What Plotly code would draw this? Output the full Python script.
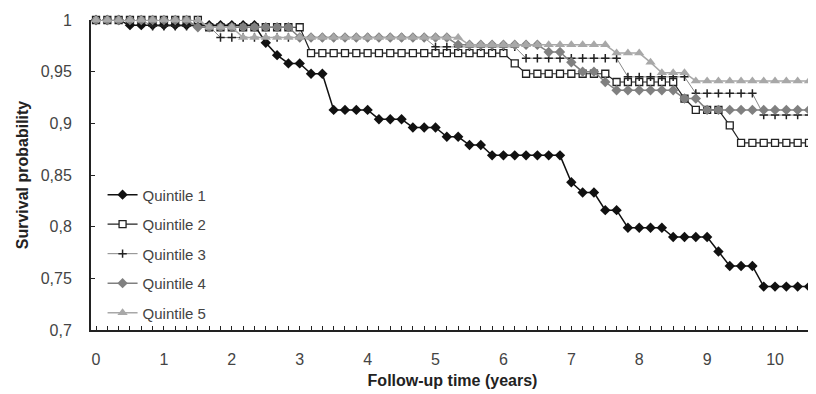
import plotly.graph_objects as go

# Follow-up time points (every 2 months), in years
months = list(range(0, 127, 2))
years = [m / 12 for m in months]

x_tick_vals = [0, 1, 2, 3, 4, 5, 6, 7, 8, 9, 10]
x_tick_text = ["0", "1", "2", "3", "4", "5", "6", "7", "8", "9", "10"]
y_tick_vals = [0.7, 0.75, 0.8, 0.85, 0.9, 0.95, 1.0]
y_tick_text = ["0,7", "0,75", "0,8", "0,85", "0,9", "0,95", "1"]

names = ["Quintile 1", "Quintile 2", "Quintile 3", "Quintile 4", "Quintile 5"]

q1 = [1.000, 1.000, 1.000,
      0.995, 0.995, 0.995, 0.995, 0.995, 0.995, 0.995, 0.995, 0.995, 0.995, 0.995, 0.995,
      0.978, 0.966, 0.958, 0.958, 0.948, 0.948,
      0.913, 0.913, 0.913, 0.913,
      0.904, 0.904, 0.904,
      0.896, 0.896, 0.896,
      0.887, 0.887,
      0.879, 0.879,
      0.869, 0.869, 0.869, 0.869, 0.869, 0.869, 0.869,
      0.843,
      0.833, 0.833,
      0.816, 0.816,
      0.799, 0.799, 0.799, 0.799,
      0.790, 0.790, 0.790, 0.790,
      0.776,
      0.762, 0.762, 0.762,
      0.742, 0.742, 0.742, 0.742, 0.742]

q2 = [1.000, 1.000, 1.000, 1.000, 1.000, 1.000, 1.000, 1.000, 1.000, 1.000,
      0.993, 0.993, 0.993, 0.993, 0.993, 0.993, 0.993, 0.993, 0.993,
      0.968, 0.968, 0.968, 0.968, 0.968, 0.968, 0.968, 0.968, 0.968,
      0.968, 0.968, 0.968, 0.968, 0.968, 0.968, 0.968, 0.968, 0.968,
      0.958,
      0.948, 0.948, 0.948, 0.948, 0.948, 0.948, 0.948, 0.948,
      0.940, 0.940, 0.940, 0.940, 0.940, 0.940,
      0.924,
      0.913, 0.913, 0.913,
      0.898,
      0.881, 0.881, 0.881, 0.881, 0.881, 0.881, 0.881]

q3 = [1.000, 1.000, 1.000, 1.000, 1.000,
      0.994, 0.994, 0.994, 0.994, 0.994, 0.994,
      0.983, 0.983, 0.983, 0.983, 0.983, 0.983, 0.983, 0.983, 0.983, 0.983,
      0.983, 0.983, 0.983, 0.983, 0.983, 0.983, 0.983, 0.983, 0.983,
      0.974, 0.974, 0.974, 0.974, 0.974, 0.974, 0.974, 0.974,
      0.963, 0.963, 0.963, 0.963, 0.963, 0.963, 0.963, 0.963, 0.963,
      0.945, 0.945, 0.945, 0.945, 0.945, 0.945,
      0.929, 0.929, 0.929, 0.929, 0.929, 0.929,
      0.908, 0.908, 0.908, 0.908, 0.908]

q4 = [1.000, 1.000, 1.000, 1.000, 1.000, 1.000, 1.000, 1.000, 1.000,
      0.993, 0.993, 0.993, 0.993, 0.993, 0.993, 0.993, 0.993, 0.993,
      0.983, 0.983, 0.983, 0.983, 0.983, 0.983, 0.983, 0.983, 0.983, 0.983, 0.983, 0.983, 0.983, 0.983,
      0.976, 0.976, 0.976, 0.976, 0.976, 0.976, 0.976, 0.976,
      0.969, 0.969,
      0.959,
      0.950, 0.950,
      0.940,
      0.932, 0.932, 0.932, 0.932, 0.932, 0.932,
      0.924, 0.924,
      0.913, 0.913, 0.913, 0.913, 0.913, 0.913, 0.913, 0.913, 0.913, 0.913]

q5 = [1.000, 1.000, 1.000, 1.000, 1.000, 1.000, 1.000, 1.000, 1.000, 1.000,
      0.993, 0.993, 0.993,
      0.983, 0.983, 0.983, 0.983, 0.983, 0.983, 0.983, 0.983, 0.983, 0.983,
      0.983, 0.983, 0.983, 0.983, 0.983, 0.983, 0.983, 0.983, 0.983, 0.983,
      0.976, 0.976, 0.976, 0.976, 0.976, 0.976, 0.976, 0.976, 0.976, 0.976, 0.976, 0.976, 0.976,
      0.968, 0.968, 0.968,
      0.959,
      0.949, 0.949, 0.949,
      0.941, 0.941, 0.941, 0.941, 0.941, 0.941, 0.941, 0.941, 0.941, 0.941, 0.941]

series = [q1, q2, q3, q4, q5]

styles = [
    dict(line=dict(color="#111111", width=1.5),
         marker=dict(symbol="diamond", size=8, color="#111111")),
    dict(line=dict(color="#222222", width=1.2),
         marker=dict(symbol="square", size=7, color="white",
                     line=dict(color="#222222", width=1.3))),
    dict(line=dict(color="#555555", width=0.7),
         marker=dict(symbol="cross-thin", size=6, color="#222222",
                     line=dict(color="#222222", width=1.5))),
    dict(line=dict(color="#808080", width=1.5),
         marker=dict(symbol="diamond", size=8, color="#808080")),
    dict(line=dict(color="#a8a8a8", width=1.5),
         marker=dict(symbol="triangle-up", size=9, color="#a8a8a8")),
]

fig = go.Figure()
for i, (nm, ys, st) in enumerate(zip(names, series, styles)):
    fig.add_trace(go.Scatter(
        x=years, y=ys, name=nm, mode="lines+markers",
        line=st["line"], marker=st["marker"], cliponaxis=False,
        legendgroup=f"g{i}",
    ))

# page body has an 8px default margin; margins compensate for it
fig.update_layout(
    width=816, height=394,
    margin=dict(l=83, r=10, t=12, b=72, autoexpand=False),
    paper_bgcolor="white", plot_bgcolor="white",
    font=dict(family="Liberation Sans, Arial, sans-serif", size=16, color="#444444"),
    showlegend=True,
    legend=dict(
        x=0.016, y=0.489, xanchor="left", yanchor="top",
        traceorder="grouped", tracegroupgap=7,
        bgcolor="rgba(255,255,255,0)",
        font=dict(size=15, color="#444444"),
    ),
    xaxis=dict(
        range=[-0.074, 10.574], automargin=False,
        tickmode="array", tickvals=x_tick_vals, ticktext=x_tick_text,
        ticks="inside", ticklen=4, tickcolor="#222222", tickwidth=1,
        minor=dict(dtick=1 / 6, tick0=0, ticks="inside", ticklen=4,
                   tickcolor="#222222", tickwidth=1, showgrid=False),
        showline=True, linecolor="#222222", linewidth=2,
        showgrid=False, zeroline=False,
        ticklabelstandoff=14,
        title=dict(text="<b>Follow-up time (years)</b>",
                   font=dict(size=16, color="#222222"), standoff=8),
    ),
    yaxis=dict(
        range=[0.7, 1.0], automargin=False,
        tickmode="array", tickvals=y_tick_vals, ticktext=y_tick_text,
        ticks="inside", ticklen=4, tickcolor="#222222", tickwidth=1,
        showline=True, linecolor="#222222", linewidth=2,
        showgrid=False, zeroline=False,
        ticklabelstandoff=14,
        title=dict(text="<b>Survival probability</b>",
                   font=dict(size=16, color="#222222"), standoff=8),
    ),
)

fig.write_html("out.html")
